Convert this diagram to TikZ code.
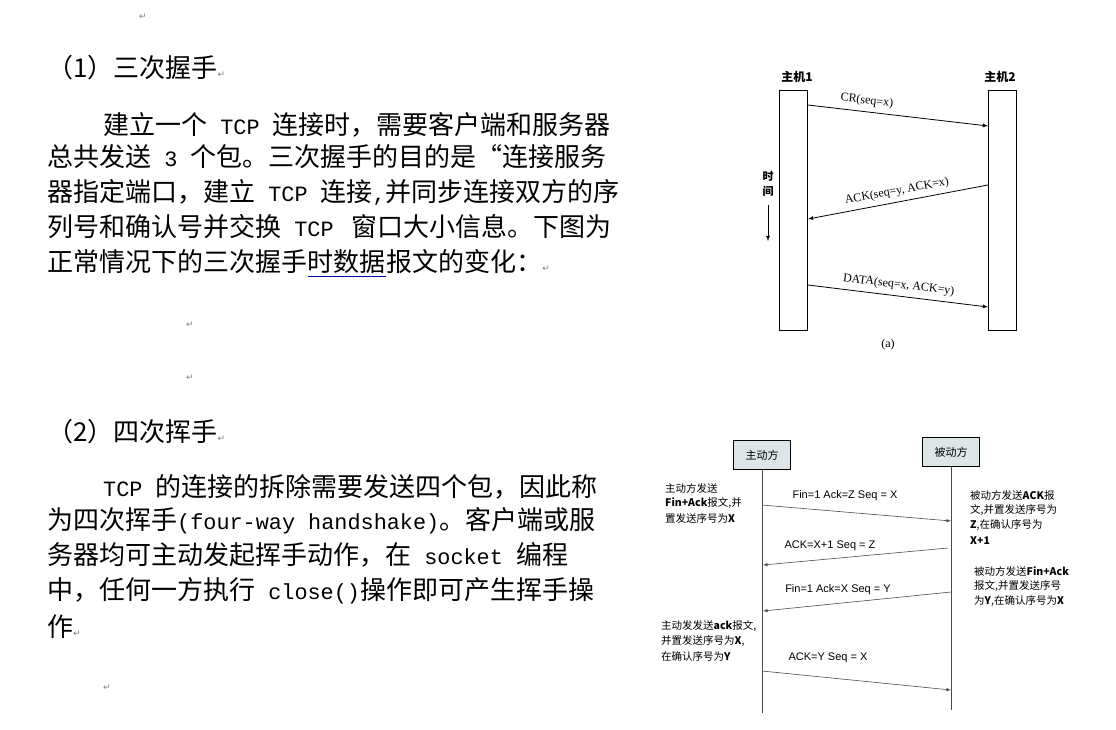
\documentclass[tikz,border=0pt]{standalone}
\usepackage{fontspec}
\newfontfamily\cjk{Noto Sans CJK SC}
\newfontfamily\dv{DejaVu Sans}
\newfontfamily\latm{Liberation Mono}[Scale=0.84]
\newcommand{\mm}[1]{{\latm #1}}
\newcommand{\blueul}[1]{\tikz[baseline=(u.base)]{\node[inner sep=0pt] (u) {#1};\draw[blue!70!black,line width=0.7pt] ([yshift=-3pt]u.south west) -- ([yshift=-3pt]u.south east);}}
\setmainfont{Liberation Serif}
\setsansfont{Liberation Sans}
\begin{document}
\begin{tikzpicture}[x=1pt,y=-1pt,
  body/.style={anchor=west,inner sep=0pt,font=\fontsize{26}{26}\cjk},
  ret/.style={inner sep=0pt,font=\fontsize{9}{9}\dv,text=gray},
  lbl/.style={inner sep=0pt,font=\fontsize{12}{12}\selectfont},
  note/.style={anchor=west,inner sep=0pt,font=\fontsize{10.5}{10.5}\cjk},
  msg/.style={inner sep=0pt,font=\fontsize{11}{11}\sffamily},
  arr/.style={-latex,line width=0.8pt},
  arr2/.style={-latex,line width=0.6pt,gray!60!black},
  host/.style={draw,line width=0.8pt,minimum width=28pt,minimum height=240pt,inner sep=0pt},
  party/.style={draw,fill=cyan!20!gray!25,minimum width=57pt,minimum height=29pt,inner sep=0pt,font=\fontsize{11}{11}\cjk}]
\path[use as bounding box,fill=white] (0,0) rectangle (1116,729);
\node[ret] (r0) at (143,17) {↵};
\node[body] (h1) at (47,68) {（1）三次握手\dv\fontsize{9}{9}\selectfont\textcolor{gray}{↵}};
\node[body] (p1) at (103,125) {建立一个\mm{ TCP }连接时，需要客户端和服务器};
\node[body] (p2) at (47,157) {总共发送\mm{ 3 }个包。三次握手的目的是“连接服务};
\node[body] (p3) at (47,192) {器指定端口，建立\mm{ TCP }连接\mm{,}并同步连接双方的序};
\node[body] (p4) at (47,227) {列号和确认号并交换\mm{ TCP }\,窗口大小信息。下图为};
\node[body] (p5) at (47,263) {正常情况下的三次握手\blueul{时数据}报文的变化：\dv\fontsize{9}{9}\selectfont\textcolor{gray}{↵}};
\node[ret] (r1) at (190,325) {↵};
\node[ret] (r2) at (190,378) {↵};
\node[body] (h2) at (47,432) {（2）四次挥手\dv\fontsize{9}{9}\selectfont\textcolor{gray}{↵}};
\node[body] (q1) at (103,487) {\mm{TCP }的连接的拆除需要发送四个包，因此称};
\node[body] (q2) at (47,521) {为四次挥手\mm{(four-way handshake)}。客户端或服};
\node[body] (q3) at (47,555) {务器均可主动发起挥手动作，在\mm{ socket }编程};
\node[body] (q4) at (47,591) {中，任何一方执行\mm{ close()}操作即可产生挥手操};
\node[body] (q5) at (47,627) {作\dv\fontsize{9}{9}\selectfont\textcolor{gray}{↵}};
\node[ret] (r3) at (107,688) {↵};
% diagram 1
\node[host] (A) at (793.5,210) {};
\node[host] (B) at (1002,210) {};
\node[lbl,font=\fontsize{12}{12}\cjk\bfseries] (la) at (797,77) {主机1};
\node[lbl,font=\fontsize{12}{12}\cjk\bfseries] (lb) at (1000,77) {主机2};
\coordinate (a1) at (808,105); \coordinate (b1) at (988,126);
\coordinate (b2) at (988,185); \coordinate (a2) at (808,219);
\coordinate (a3) at (808,285); \coordinate (b3) at (988,307);
\draw[arr] (a1) -- (b1) node[lbl,midway,above=5pt,rotate=-6.5,xshift=-32pt] {CR(seq=x)};
\draw[arr] (b2) -- (a2) node[lbl,midway,above=5pt,rotate=10.5] {ACK(seq=y, ACK=x)};
\draw[arr] (a3) -- (b3) node[lbl,midway,above=5pt,rotate=-7] {DATA(seq=x, ACK=y)};
\node[lbl,font=\fontsize{11}{11}\cjk\bfseries] (t1) at (768,176) {时};
\node[lbl,font=\fontsize{11}{11}\cjk\bfseries] (t2) at (768,191) {间};
\coordinate (ts) at (768,205); \coordinate (te) at (768,241);
\draw[arr] (ts) -- (te);
\node[lbl] (cap) at (888,345) {(a)};
% diagram 2
\node[party] (P) at (762,455) {主动方};
\node[party] (Q) at (951,452) {被动方};
\coordinate (Pe) at (762,713); \coordinate (Qe) at (951,710);
\draw[gray!60!black] (P.south) -- (Pe);
\draw[gray!60!black] (Q.south) -- (Qe);
\coordinate (m1a) at (762,505); \coordinate (m1b) at (951,521);
\coordinate (m2a) at (948,548); \coordinate (m2b) at (763,565);
\coordinate (m3a) at (951,592); \coordinate (m3b) at (763,611);
\coordinate (m4a) at (762,671); \coordinate (m4b) at (951,690);
\draw[arr2] (m1a) -- (m1b);
\draw[arr2] (m2a) -- (m2b);
\draw[arr2] (m3a) -- (m3b);
\draw[arr2] (m4a) -- (m4b);
\node[msg] (t1m) at (845,496) {Fin=1 Ack=Z Seq = X};
\node[msg] (t2m) at (830,546) {ACK=X+1 Seq = Z};
\node[msg] (t3m) at (838,590) {Fin=1 Ack=X Seq = Y};
\node[msg] (t4m) at (828,658) {ACK=Y Seq = X};
\node[note] (n1) at (665,488) {主动方发送};
\node[note] (n2) at (665,503) {\textbf{Fin+Ack}报文,并};
\node[note] (n3) at (665,518) {置发送序号为\textbf{X}};
\node[note] (n4) at (970,495) {被动方发送\textbf{ACK}报};
\node[note] (n5) at (970,510) {文,并置发送序号为};
\node[note] (n6) at (970,525) {\textbf{Z},在确认序号为};
\node[note] (n7) at (970,541) {\textbf{X+1}};
\node[note] (n8) at (974,571) {被动方发送\textbf{Fin+Ack}};
\node[note] (n9) at (974,586) {报文,并置发送序号};
\node[note] (n10) at (974,601) {为\textbf{Y},在确认序号为\textbf{X}};
\node[note] (n11) at (661,626) {主动发发送\textbf{ack}报文,};
\node[note] (n12) at (661,641) {并置发送序号为\textbf{X},};
\node[note] (n13) at (661,656) {在确认序号为\textbf{Y}};
\end{tikzpicture}
\end{document}
